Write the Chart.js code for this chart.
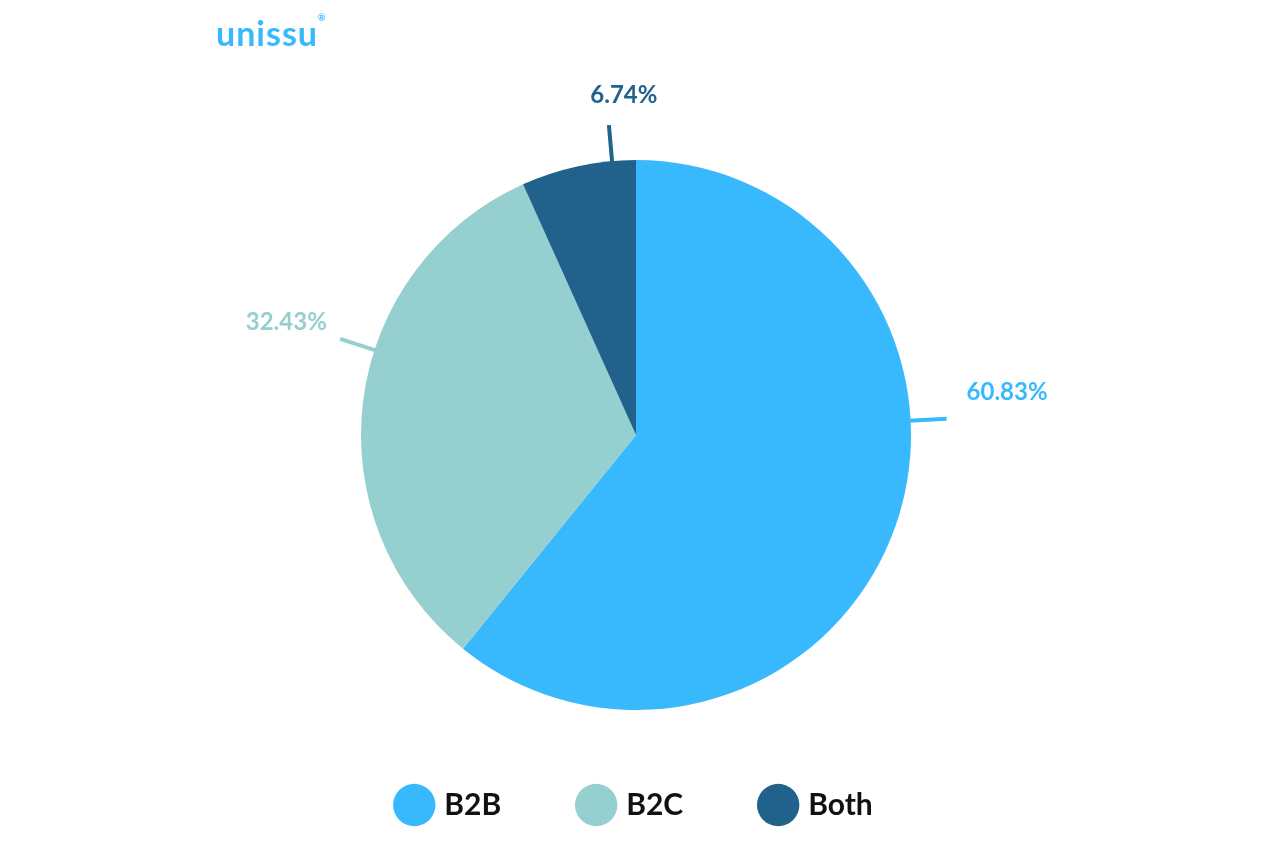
<!DOCTYPE html>
<html><head><meta charset="utf-8">
<script src="https://cdn.jsdelivr.net/npm/chart.js@4/dist/chart.umd.min.js"></script>
<style>html,body{margin:0;padding:0;background:#fff;}#wrap{position:relative;width:1272px;height:848px;}
#logo{position:absolute;left:216px;top:12px;font:700 34px Lato,sans-serif;color:#38B9FD;letter-spacing:1px;}
</style></head><body><div id="wrap"><div id="logo">unissu<span style="font-size:9px;vertical-align:top">®</span></div><canvas id="c" width="1272" height="848"></canvas></div>
<script>
const categories=['B2B','B2C','Both'];
const values=[60.83,32.43,6.74];
const labels=['60.83%','32.43%','6.74%'];
const colors=['#38B9FD','#96CFCF','#21628C'];
const labelAngles=[87,288,355];
const labelPlugin={id:'lbl',afterDatasetsDraw(chart){
 const ctx=chart.ctx;const arc=chart.getDatasetMeta(0).data[0];
 const cx=arc.x,cy=arc.y,r=arc.outerRadius;
 labelAngles.forEach((a,i)=>{const t=(a-90)*Math.PI/180;const dx=Math.cos(t),dy=Math.sin(t);
  ctx.save();ctx.strokeStyle=colors[i];ctx.lineWidth=4;ctx.beginPath();
  ctx.moveTo(cx+dx*(r-2),cy+dy*(r-2));ctx.lineTo(cx+dx*(r+36),cy+dy*(r+36));ctx.stroke();
  ctx.fillStyle=colors[i];ctx.font='700 24px Lato, sans-serif';ctx.textBaseline='middle';
  let x=cx+dx*(r+48),y=cy+dy*(r+48);
  if(i===0){ctx.textAlign='left';y-=26;x+=8;}else if(i===1){ctx.textAlign='right';y-=13;x-=2;}else{ctx.textAlign='center';x+=16;y-=18;}
  ctx.fillText(labels[i],x,y);ctx.restore();});
}};
new Chart(document.getElementById('c'),{type:'pie',
 data:{labels:categories,datasets:[{data:values,backgroundColor:colors,borderWidth:0}]},
 options:{responsive:false,animation:false,layout:{padding:{top:160,bottom:18}},
  plugins:{tooltip:{enabled:false},legend:{position:'bottom',labels:{usePointStyle:true,pointStyle:'circle',boxWidth:36,boxHeight:36,padding:80,color:'#111',font:{family:'Lato',size:30,weight:'700'}}}}},
 plugins:[labelPlugin]});
</script></body></html>
